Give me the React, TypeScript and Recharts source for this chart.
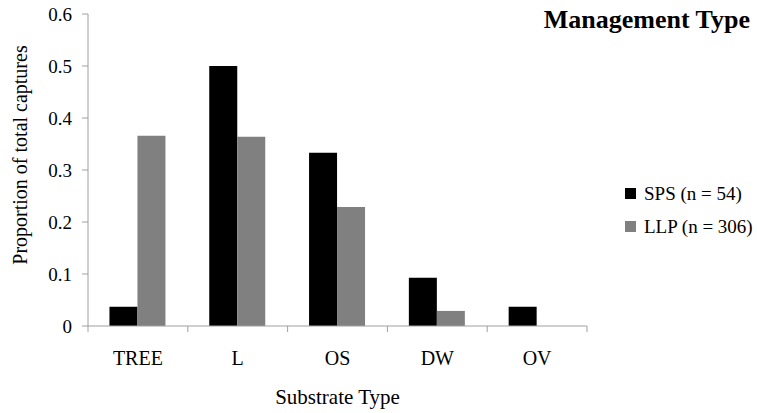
import React from 'react';
import { BarChart, Bar, XAxis, YAxis, Legend } from 'recharts';

const categories = ['TREE', 'L', 'OS', 'DW', 'OV'];
const spsValues = [0.037, 0.5, 0.333, 0.093, 0.037];
const llpValues = [0.366, 0.364, 0.229, 0.029, 0];
const yTicks = [0, 0.1, 0.2, 0.3, 0.4, 0.5, 0.6];
const seriesNames = ['SPS (n = 54)', 'LLP (n = 306)'];
const seriesColors = ['#000000', '#808080'];
const chartTitle = 'Management Type';
const xTitle = 'Substrate Type';
const yTitle = 'Proportion of total captures';

const data = categories.map((c, i) => ({ cat: c, sps: spsValues[i], llp: llpValues[i] }));

const FONT = '"Liberation Serif", "Times New Roman", serif';
const AXIS = '#A0A0A0';

const XTick = (props: any) => {
  const { x, y, payload, index, visibleTicksCount } = props;
  const half = payload && typeof payload.offset === 'number' ? payload.offset : 0;
  const axisY = y - 25;
  const last = index === (visibleTicksCount ?? categories.length) - 1;
  return (
    <g>
      <line x1={x - half} x2={x - half} y1={axisY} y2={axisY + 6} stroke={AXIS} />
      {last && <line x1={x + half} x2={x + half} y1={axisY} y2={axisY + 6} stroke={AXIS} />}
      <text x={x} y={y} dy="0.71em" textAnchor="middle" fill="#000" fontSize={20} fontFamily={FONT}>
        {payload.value}
      </text>
    </g>
  );
};

const YLabel = (props: any) => {
  const vb = props.viewBox || { x: 0, y: 0, width: 88, height: 300 };
  const cx = vb.x + 20;
  const cy = vb.y + vb.height / 2 - 15;
  return (
    <text
      x={cx}
      y={cy}
      transform={`rotate(-90, ${cx}, ${cy})`}
      textAnchor="middle"
      dominantBaseline="central"
      fill="#000"
      fontSize={20}
      fontFamily={FONT}
    >
      {yTitle}
    </text>
  );
};

const LegendContent = () => (
  <div style={{ fontFamily: FONT, fontSize: 19, color: '#000' }}>
    {seriesNames.map((n, i) => (
      <div key={n} style={{ display: 'flex', alignItems: 'center', height: 33, whiteSpace: 'nowrap' }}>
        <span style={{ display: 'inline-block', width: 11, height: 11, background: seriesColors[i], marginRight: 8 }} />
        <span>{n}</span>
      </div>
    ))}
  </div>
);

export default function App() {
  return (
    <div style={{ position: 'absolute', left: 0, top: 0, width: 757, height: 413, background: '#fff' }}>
      <BarChart
        width={757}
        height={413}
        data={data}
        margin={{ top: 14, right: 170, bottom: 4, left: 0 }}
        barCategoryGap="21.5%"
        barGap={0}
      >
        <YAxis
          width={88}
          domain={[0, 0.6]}
          ticks={yTicks}
          interval={0}
          tickFormatter={(v: number) => (v === 0 ? '0' : v.toFixed(1))}
          tick={{ fill: '#000', fontSize: 19, fontFamily: FONT }}
          tickLine={{ stroke: AXIS }}
          axisLine={{ stroke: AXIS }}
          tickSize={6}
          tickMargin={10}
          label={<YLabel />}
        />
        <XAxis
          dataKey="cat"
          height={83}
          interval={0}
          tickLine={false}
          tickSize={6}
          tickMargin={19}
          axisLine={{ stroke: AXIS }}
          tick={<XTick />}
          label={{ value: xTitle, position: 'insideBottom', offset: 5, fill: '#000', fontSize: 21, fontFamily: FONT }}
        />
        <Legend
          layout="vertical"
          align="center"
          verticalAlign="middle"
          content={<LegendContent />}
          wrapperStyle={{ left: 625, top: 177, width: 132 }}
        />
        <Bar dataKey="sps" name={seriesNames[0]} fill={seriesColors[0]} isAnimationActive={false} />
        <Bar dataKey="llp" name={seriesNames[1]} fill={seriesColors[1]} isAnimationActive={false} />
      </BarChart>
      <div
        style={{
          position: 'absolute',
          right: 7,
          top: 5,
          fontFamily: FONT,
          fontWeight: 'bold',
          fontSize: 26,
          color: '#000',
          whiteSpace: 'nowrap',
        }}
      >
        {chartTitle}
      </div>
    </div>
  );
}
